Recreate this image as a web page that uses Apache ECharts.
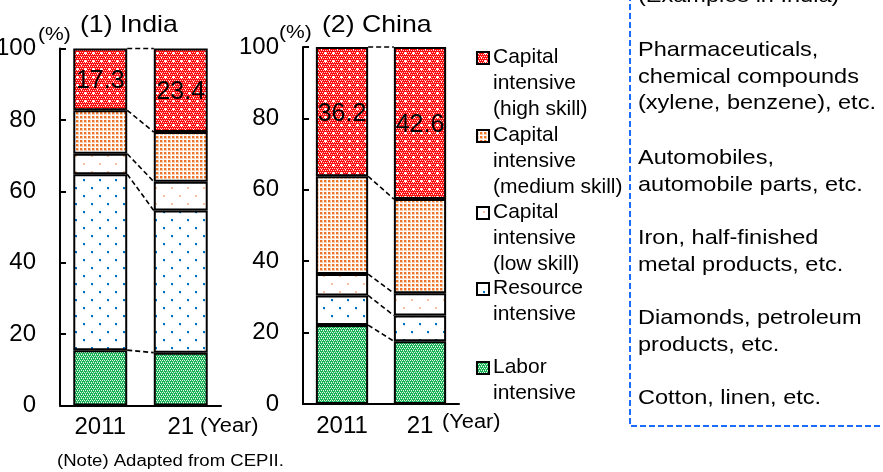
<!DOCTYPE html>
<html>
<head>
<meta charset="utf-8">
<script src="https://cdn.jsdelivr.net/npm/echarts@6/dist/echarts.min.js"></script>
<style>
  html, body { margin: 0; padding: 0; background: #fff; }
  #chart { width: 883px; height: 472px; }
</style>
</head>
<body>
<div id="chart"></div>
<script>
// Category labels and stacked shares (%) of each export type, bottom to top
const years = ['2011', '21'];
const seriesNames = ['Labor intensive', 'Resource intensive', 'Capital intensive (low skill)',
                     'Capital intensive (medium skill)', 'Capital intensive (high skill)'];
const indiaLabor   = [15.5, 14.8];
const indiaRes     = [49.3, 39.8];
const indiaLow     = [5.7, 8.1];
const indiaMed     = [12.2, 13.9];
const indiaHigh    = [17.3, 23.4];
const chinaLabor   = [22.1, 17.6];
const chinaRes     = [8.3, 7.2];
const chinaLow     = [6.0, 6.2];
const chinaMed     = [27.4, 26.4];
const chinaHigh    = [36.2, 42.6];
const yTicks = [0, 20, 40, 60, 80, 100];

// Legend text (top to bottom) and product examples
const legendLabels = ['Capital\nintensive\n(high skill)', 'Capital\nintensive\n(medium skill)',
                      'Capital\nintensive\n(low skill)', 'Resource\nintensive', 'Labor\nintensive'];
const exampleTexts = ['Pharmaceuticals,\nchemical compounds\n(xylene, benzene), etc.',
                      'Automobiles,\nautomobile parts, etc.',
                      'Iron, half-finished\nmetal products, etc.',
                      'Diamonds, petroleum\nproducts, etc.',
                      'Cotton, linen, etc.'];

const FONT = "'Liberation Sans', Arial, sans-serif";

// ---- fill patterns ----
function tile(w, h, draw) {
  const c = document.createElement('canvas');
  c.width = w; c.height = h;
  const ctx = c.getContext('2d');
  ctx.fillStyle = '#fff'; ctx.fillRect(0, 0, w, h);
  draw(ctx);
  return { image: c, repeat: 'repeat' };
}
const patHigh = tile(8, 8, ctx => {
  ctx.fillStyle = '#ff0d0d'; ctx.fillRect(0, 0, 8, 8);
  ctx.fillStyle = '#ffd0d0';
  for (let y = 0; y < 8; y += 2) for (let x = (y % 4 === 0 ? 0 : 1); x < 8; x += 2) ctx.fillRect(x, y, 1, 1);
  ctx.fillStyle = '#ffffff';
  ctx.fillRect(5, 4, 1, 3); ctx.fillRect(4, 5, 3, 1);
  ctx.fillRect(1, 1, 1, 1);
});
const patMed = tile(4, 4, ctx => {
  ctx.fillStyle = '#f8c9a8'; ctx.fillRect(0, 0, 3, 3);
  ctx.fillStyle = '#ec7328'; ctx.fillRect(0, 0, 2, 2);
});
const patLow = tile(16, 16, ctx => {
  ctx.fillStyle = '#f6c19c'; ctx.fillRect(3, 3, 2, 2); ctx.fillRect(11, 11, 2, 2);
});
const patRes = tile(16, 16, ctx => {
  ctx.fillStyle = '#0070c0'; ctx.fillRect(3, 3, 2, 2); ctx.fillRect(11, 11, 2, 2);
  ctx.fillStyle = '#a9cff0'; ctx.fillRect(4, 5, 1, 1); ctx.fillRect(12, 13, 1, 1);
});
const patLabor = tile(4, 4, ctx => {
  ctx.fillStyle = '#16b155'; ctx.fillRect(0, 0, 4, 4);
  ctx.fillStyle = '#e2f7ea';
  ctx.fillRect(0, 0, 1, 1); ctx.fillRect(2, 0, 1, 1); ctx.fillRect(1, 2, 1, 1); ctx.fillRect(3, 2, 1, 1);
  ctx.fillStyle = '#8fdcab'; ctx.fillRect(1, 1, 1, 1); ctx.fillRect(3, 3, 1, 1);
});
const patterns = [patLabor, patRes, patLow, patMed, patHigh];

const BAR_FRAC = 0.67;

function panelAxes(gridIndex) {
  return {
    x: {
      type: 'category', gridIndex, data: years,
      axisLine: { lineStyle: { color: '#000', width: 2 } },
      axisTick: { show: false },
      axisLabel: { color: '#000', fontSize: 24, fontFamily: FONT, margin: 10 }
    },
    y: {
      type: 'value', gridIndex, min: yTicks[0], max: yTicks[yTicks.length - 1], interval: 20,
      axisLine: { show: true, lineStyle: { color: '#000', width: 2 } },
      axisTick: { show: true, inside: true, length: 6, lineStyle: { color: '#000', width: 2 } },
      splitLine: { show: false },
      axisLabel: { color: '#000', fontSize: 24, fontFamily: FONT, margin: 24 }
    }
  };
}

function panelSeries(idx, stacks) {
  const out = stacks.map((vals, i) => ({
    name: seriesNames[i], type: 'bar', stack: 'p' + idx,
    xAxisIndex: idx, yAxisIndex: idx, data: vals,
    barWidth: (BAR_FRAC * 100) + '%',
    itemStyle: { color: patterns[i], borderColor: '#000', borderWidth: 2 },
    label: i === 4 ? { show: true, position: 'inside', color: '#000', fontSize: 25, fontFamily: FONT,
                       offset: [0, 2], formatter: p => p.value.toFixed(1) } : { show: false },
    emphasis: { disabled: true },
    animation: false
  }));
  // dashed connectors between the segment boundaries of the two bars
  const bounds = [];
  let a = 0, b = 0;
  stacks.forEach(v => { a += v[0]; b += v[1]; bounds.push([0, a, b]); });
  out.push({
    type: 'custom', xAxisIndex: idx, yAxisIndex: idx, data: bounds,
    encode: { x: 0, y: [1, 2] }, silent: true, animation: false, z: 1,
    renderItem: (params, api) => {
      const band = api.size([1, 0])[0];
      const half = band * BAR_FRAC / 2;
      const p0 = api.coord([0, api.value(1)]);
      const p1 = api.coord([1, api.value(2)]);
      return {
        type: 'line',
        shape: { x1: p0[0] + half, y1: p0[1], x2: p1[0] - half, y2: p1[1] },
        style: { stroke: '#000', lineWidth: 1.6, lineDash: [5, 3] }
      };
    }
  });
  return out;
}

const ax0 = panelAxes(0), ax1 = panelAxes(1);

// ---- legend and side text built as graphics ----
const graphics = [];
function txt(x, y, text, size, sx, extra) {
  return Object.assign({
    type: 'text', x, y, scaleX: sx || 1, originX: 0,
    style: { text, font: size + 'px ' + FONT, fill: '#000', verticalAlign: 'middle' }
  }, extra || {});
}
const legendTop = [57, 135, 212, 288, 367];
const legendFills = [patHigh, patMed, patLow, patRes, patLabor];
legendLabels.forEach((t, i) => {
  graphics.push({ type: 'rect', shape: { x: 477, y: legendTop[i] - 5, width: 12, height: 12 },
                  style: { fill: legendFills[i], stroke: '#000', lineWidth: 2 } });
  graphics.push({ type: 'text', x: 493, y: legendTop[i] - 13,
                  style: { text: t, font: '21px ' + FONT, fill: '#000', lineHeight: 26, verticalAlign: 'top' } });
});
const exampleTop = [50, 158, 238, 318, 398];
exampleTexts.forEach((t, i) => {
  graphics.push({ type: 'text', x: 638, y: exampleTop[i] - 13, scaleX: 1.12, originX: 0,
                  style: { text: t, font: '21px ' + FONT, fill: '#000', lineHeight: 26.5, verticalAlign: 'top' } });
});
graphics.push({ type: 'text', x: 638, y: -14, scaleX: 1.12, originX: 0,
                style: { text: '(Examples in India)', font: '21px ' + FONT, fill: '#000', verticalAlign: 'top' } });
graphics.push({ type: 'rect', shape: { x: 630, y: -20, width: 280, height: 446 },
                style: { fill: 'none', stroke: '#1a6dff', lineWidth: 2, lineDash: [6, 3] } });
// titles, unit marks, year marks and note
graphics.push(txt(80, 25, '(1) India', 24, 1.11));
graphics.push(txt(322, 25, '(2) China', 24, 1.11));
graphics.push(txt(38, 35, '(%)', 18, 1.17));
graphics.push(txt(279, 33, '(%)', 18, 1.17));
graphics.push(txt(200, 426, '(Year)', 20, 1.09));
graphics.push(txt(442, 422, '(Year)', 20, 1.09));
graphics.push(txt(57, 462, '(Note) Adapted from CEPII.', 16, 1.16));

const chart = echarts.init(document.getElementById('chart'), null, { renderer: 'canvas' });
chart.setOption({
  animation: false,
  backgroundColor: '#fff',
  grid: [
    { left: 60, top: 48.5, width: 161, height: 357, containLabel: false, outerBoundsMode: 'none' },
    { left: 303, top: 47, width: 156, height: 357, containLabel: false, outerBoundsMode: 'none' }
  ],
  xAxis: [ax0.x, ax1.x],
  yAxis: [ax0.y, ax1.y],
  series: [
    ...panelSeries(0, [indiaLabor, indiaRes, indiaLow, indiaMed, indiaHigh]),
    ...panelSeries(1, [chinaLabor, chinaRes, chinaLow, chinaMed, chinaHigh])
  ],
  graphic: graphics
});
</script>
</body>
</html>
